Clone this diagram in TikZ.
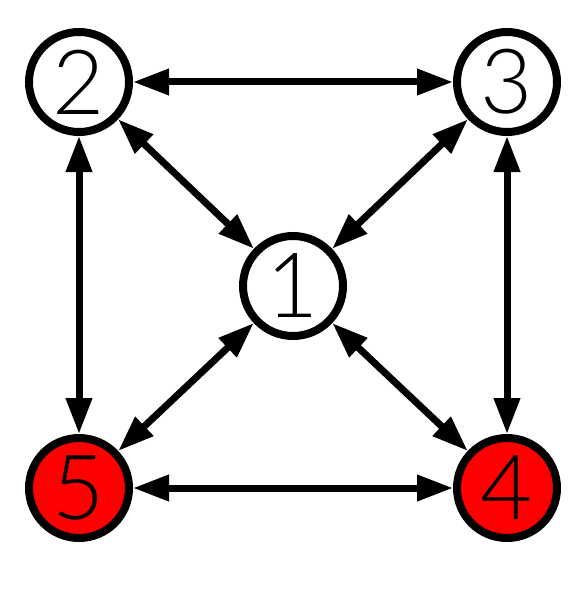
\documentclass[tikz,border=0pt]{standalone}
\usepackage{fontspec}
\setmainfont{Lato Light}
\usetikzlibrary{arrows.meta}
\begin{document}
\begin{tikzpicture}[x=1pt,y=-1pt,
  vnode/.style={circle,draw=black,line width=8pt,minimum size=100pt,inner sep=0pt,fill=white,font=\fontsize{90}{90}\selectfont},
  rnode/.style={vnode,fill=red},
  conn/.style={line width=7pt,{Triangle[length=36pt,width=25pt]}-{Triangle[length=36pt,width=25pt]}}]
\useasboundingbox (0,0) rectangle (586,599);
\node[vnode] (n2) at (79,82) {2};
\node[vnode] (n3) at (507,82) {3};
\node[vnode] (n1) at (293,286) {1};
\node[rnode] (n5) at (79,488) {5};
\node[rnode] (n4) at (507,488) {4};
\draw[conn] (n2) -- (n3);
\draw[conn] (n2) -- (n5);
\draw[conn] (n3) -- (n4);
\draw[conn] (n5) -- (n4);
\draw[conn] (n2) -- (n1);
\draw[conn] (n3) -- (n1);
\draw[conn] (n5) -- (n1);
\draw[conn] (n4) -- (n1);
\end{tikzpicture}
\end{document}
